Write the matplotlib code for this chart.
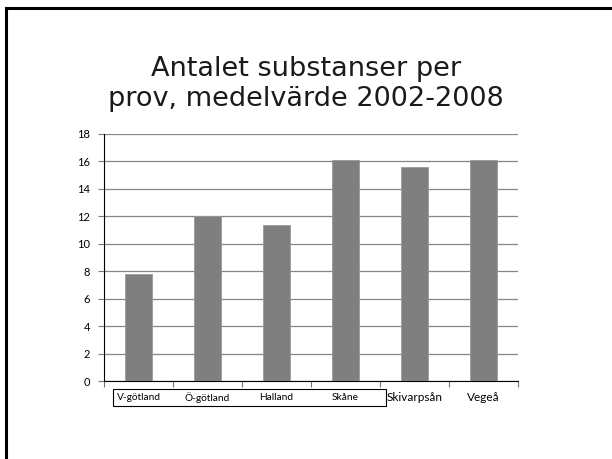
import matplotlib.pyplot as plt
from matplotlib.patches import Rectangle

regions = ['V-götland', 'Ö-götland', 'Halland', 'Skåne', 'Skivarpsån', 'Vegeå']
values = [7.8, 12.0, 11.4, 16.1, 15.6, 16.1]
yticks = [0, 2, 4, 6, 8, 10, 12, 14, 16, 18]

plt.rcParams['font.family'] = ['Lato', 'DejaVu Sans']

fig = plt.figure(figsize=(6.12, 4.59), dpi=100)

# slide frame (left and top only visible)
fig.add_artist(plt.Line2D([0.010, 0.010], [0.0, 0.982], color='black', lw=2.2))
fig.add_artist(plt.Line2D([0.010, 1.0], [0.982, 0.982], color='black', lw=2.2))

fig.text(0.5, 0.817, 'Antalet substanser per\nprov, medelvärde 2002-2008',
         ha='center', va='center', fontsize=19.5, linespacing=1.2,
         family=['DejaVu Sans'], color='#1a1a1a')

ax = fig.add_axes([104 / 612, 1 - 381 / 459, (518 - 104) / 612, (381 - 134) / 459])
x = list(range(len(regions)))
ax.bar(x, values, width=0.39, color='#7f7f7f', edgecolor='#999999', linewidth=0.6, zorder=3)

ax.set_xlim(-0.5, len(regions) - 0.5)
ax.set_ylim(0, 18)
ax.set_yticks(yticks)
ax.tick_params(axis='y', labelsize=8, length=4, width=0.8, color='#777777', pad=6)
ax.yaxis.grid(True, color='#868686', lw=0.9, zorder=0)

ax.set_xticks([i - 0.5 for i in range(len(regions) + 1)])
ax.set_xticklabels([])
ax.tick_params(axis='x', length=4, width=0.8, color='#777777')

for s in ['top', 'right']:
    ax.spines[s].set_visible(False)
ax.spines['left'].set_color('black')
ax.spines['bottom'].set_color('black')

for i, r in enumerate(regions):
    fs = 7.3 if i < 4 else 8.5
    ax.text(i, -1.2, r, ha='center', va='center', fontsize=fs,
            transform=ax.transData, clip_on=False)

box = Rectangle((-0.37, -1.83), 3.95, 1.22, fill=False, edgecolor='black', lw=0.8,
                transform=ax.transData, clip_on=False)
ax.add_patch(box)

fig.savefig('out.png', dpi=100)
